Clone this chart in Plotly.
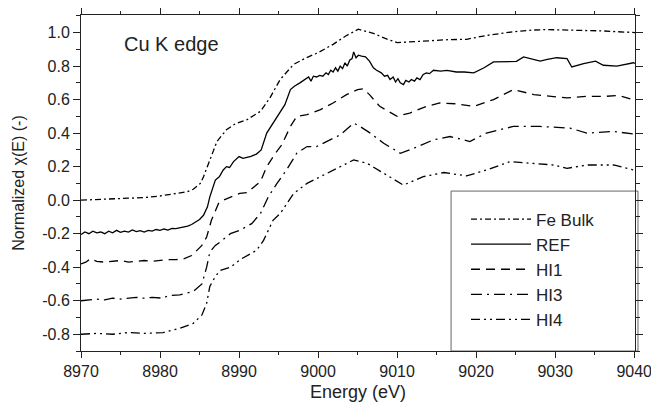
import plotly.graph_objects as go

# ---------------- data ----------------
fe_bulk_e = [8970, 8972, 8974, 8976, 8978, 8980, 8982, 8983.4, 8984.2, 8985.1, 8985.5, 8986.3,
             8987.2, 8988.4, 8989.5, 8991, 8992.7, 8993.9, 8995.2, 8996.9, 8998.5, 9000, 9001.9,
             9003.5, 9005.1, 9007, 9008.5, 9010, 9012, 9014.6, 9016.5, 9018.8, 9021.3, 9024.7,
             9027, 9029, 9031.5, 9033.6, 9036, 9038, 9040, 9041.2]
fe_bulk_v = [0.00, 0.005, 0.01, 0.012, 0.015, 0.025, 0.04, 0.05, 0.065, 0.10, 0.14, 0.24,
             0.35, 0.42, 0.455, 0.48, 0.53, 0.61, 0.72, 0.81, 0.85, 0.88, 0.93,
             0.98, 1.02, 0.995, 0.965, 0.94, 0.945, 0.955, 0.958, 0.96, 0.983, 1.005,
             1.015, 1.018, 1.016, 1.012, 1.01, 1.005, 1.00, 0.998]

ref_e = [8970, 8970.5, 8971, 8971.5, 8972, 8972.5, 8973, 8973.5, 8974, 8974.5, 8975, 8975.5,
         8976, 8976.5, 8977, 8977.5, 8978, 8978.5, 8979, 8979.5, 8980, 8980.5, 8981, 8981.5,
         8982, 8982.5, 8983, 8983.5, 8984, 8984.5, 8985, 8985.5, 8986, 8986.3, 8986.7, 8987,
         8987.5, 8988, 8988.4, 8988.8, 8989.3, 8990, 8990.5, 8991, 8991.5, 8992.2, 8992.8,
         8993.5, 8994.3, 8995.2, 8995.8, 8996.5, 8997, 8997.7, 8998.3, 8998.8, 8999.1, 8999.4,
         8999.8, 9000.2, 9000.6, 9001, 9001.3, 9001.6, 9001.9, 9002.2, 9002.5, 9002.8, 9003.1,
         9003.4, 9003.7, 9004, 9004.3, 9004.5, 9004.8, 9005.1, 9005.5, 9006, 9006.5, 9007,
         9007.4, 9008, 9008.4, 9008.8, 9009.1, 9009.5, 9009.8, 9010.1, 9010.4, 9010.8, 9011.1,
         9011.5, 9011.8, 9012.2, 9012.5, 9012.9, 9013.3, 9013.7, 9014.1, 9014.6, 9015.5,
         9016.3, 9017.5, 9018.5, 9019.7, 9021, 9022.2, 9024, 9025.1, 9026, 9027, 9028.1,
         9029, 9030.2, 9031.5, 9032.1, 9033.6, 9035.1, 9036.1, 9037.8, 9039.9, 9041.2]
ref_v = [-0.205, -0.19, -0.20, -0.185, -0.195, -0.19, -0.20, -0.185, -0.195, -0.18, -0.192, -0.185,
         -0.19, -0.178, -0.188, -0.182, -0.19, -0.18, -0.185, -0.175, -0.18, -0.172, -0.178, -0.168,
         -0.17, -0.165, -0.16, -0.155, -0.145, -0.13, -0.115, -0.09, -0.04, 0.02, 0.08, 0.12,
         0.14, 0.18, 0.20, 0.195, 0.23, 0.26, 0.25, 0.255, 0.262, 0.275, 0.30,
         0.40, 0.46, 0.52, 0.57, 0.66, 0.68, 0.70, 0.72, 0.735, 0.71, 0.74,
         0.735, 0.745, 0.74, 0.76, 0.75, 0.775, 0.765, 0.79, 0.77, 0.80, 0.785,
         0.82, 0.80, 0.835, 0.845, 0.885, 0.85, 0.865, 0.86, 0.855, 0.83, 0.79,
         0.775, 0.76, 0.74, 0.745, 0.72, 0.735, 0.705, 0.725, 0.70, 0.69, 0.715,
         0.705, 0.72, 0.71, 0.73, 0.72, 0.75, 0.76, 0.755, 0.775, 0.77,
         0.775, 0.765, 0.765, 0.76, 0.79, 0.825, 0.827, 0.828, 0.855, 0.845, 0.83,
         0.84, 0.85, 0.845, 0.795, 0.815, 0.83, 0.805, 0.80, 0.82, 0.795]

hi1_e = [8970, 8970.6, 8971.2, 8972, 8973, 8974, 8975, 8976, 8977, 8978, 8979, 8980, 8981, 8982,
         8983, 8984, 8984.6, 8985.3, 8985.9, 8986.5, 8987.4, 8988, 8989, 8990.1, 8991, 8992,
         8992.7, 8993.5, 8994.6, 8995.4, 8996.5, 8997.3, 8998.6, 9000.3, 9001.9, 9003.6, 9005,
         9005.7, 9006.5, 9007.8, 9010, 9011.6, 9013.7, 9015.4, 9017.5, 9019.7, 9022.2, 9024.7,
         9027.3, 9029.5, 9031.5, 9034, 9036.5, 9038, 9039.9, 9041]
hi1_v = [-0.38, -0.37, -0.35, -0.365, -0.37, -0.365, -0.36, -0.37, -0.365, -0.36, -0.365, -0.36,
         -0.355, -0.355, -0.35, -0.33, -0.30, -0.27, -0.22, -0.12, -0.02, 0.00, 0.02, 0.04, 0.045,
         0.08, 0.11, 0.20, 0.28, 0.33, 0.44, 0.50, 0.51, 0.54, 0.58, 0.63, 0.66,
         0.665, 0.63, 0.56, 0.50, 0.52, 0.56, 0.58, 0.575, 0.56, 0.60, 0.66,
         0.63, 0.62, 0.61, 0.62, 0.62, 0.625, 0.60, 0.595]

hi3_e = [8970, 8971, 8972, 8973, 8974, 8975, 8976, 8977, 8978, 8979, 8980.4, 8981, 8982.5,
         8984.2, 8985.3, 8985.9, 8986.3, 8987, 8987.6, 8988.9, 8990.1, 8991.6, 8992.7, 8993.7,
         8994.8, 8996, 8997.3, 8998.6, 8999.8, 9001.1, 9002.8, 9004.5, 9005.3, 9006.6, 9008.3,
         9010.4, 9012.1, 9014.6, 9016.7, 9019.2, 9021.3, 9024.7, 9028.1, 9031.9, 9034, 9037.4,
         9040.8]
hi3_v = [-0.60, -0.595, -0.59, -0.595, -0.585, -0.59, -0.585, -0.58, -0.585, -0.58, -0.585, -0.57,
         -0.565, -0.545, -0.50, -0.40, -0.31, -0.27, -0.25, -0.20, -0.18, -0.14, -0.08, 0.02,
         0.10, 0.18, 0.28, 0.32, 0.32, 0.35, 0.39, 0.46, 0.44, 0.40, 0.34,
         0.28, 0.31, 0.36, 0.38, 0.35, 0.40, 0.44, 0.44, 0.43, 0.40, 0.41,
         0.39]

hi4_e = [8970, 8972, 8974, 8976, 8978, 8980.4, 8982.5, 8984.2, 8985.3, 8985.9, 8986.3, 8987,
         8987.6, 8988.9, 8990.3, 8992.2, 8993.1, 8993.7, 8994.3, 8995.2, 8996.9, 8998.6, 9000.3,
         9002.8, 9004.5, 9006.2, 9008.3, 9010.8, 9013.3, 9015.9, 9018.8, 9021.3, 9024.3, 9027.3,
         9029.8, 9031.5, 9034, 9037.4, 9039.9, 9041]
hi4_v = [-0.80, -0.795, -0.80, -0.79, -0.795, -0.79, -0.765, -0.735, -0.685, -0.615, -0.515, -0.455,
         -0.42, -0.40, -0.35, -0.30, -0.24, -0.18, -0.12, -0.08, 0.04, 0.10, 0.14,
         0.20, 0.24, 0.22, 0.16, 0.09, 0.14, 0.165, 0.145, 0.18, 0.23, 0.22,
         0.21, 0.19, 0.21, 0.21, 0.18, 0.175]

x_tick_vals = [8970, 8980, 8990, 9000, 9010, 9020, 9030, 9040]
x_tick_text = ["8970", "8980", "8990", "9000", "9010", "9020", "9030", "9040"]
y_tick_vals = [-0.8, -0.6, -0.4, -0.2, 0.0, 0.2, 0.4, 0.6, 0.8, 1.0]
y_tick_text = ["-0.8", "-0.6", "-0.4", "-0.2", "0.0", "0.2", "0.4", "0.6", "0.8", "1.0"]

series = [
    ("Fe Bulk", fe_bulk_e, fe_bulk_v, "6px,3px,2px,3px"),
    ("REF", ref_e, ref_v, "solid"),
    ("HI1", hi1_e, hi1_v, "9px,6px"),
    ("HI3", hi3_e, hi3_v, "11px,5px,2px,5px"),
    ("HI4", hi4_e, hi4_v, "9px,4px,2px,4px,2px,4px"),
]

FONT = "Arial, 'Liberation Sans', sans-serif"

fig = go.Figure()
for name, xs, ys, dash in series:
    fig.add_trace(go.Scatter(x=xs, y=ys, mode="lines", name=name,
                             line=dict(color="black", width=1.3, dash=dash)))

axis_common = dict(showline=True, linecolor="#222", linewidth=1, mirror="ticks",
                   ticks="outside", tickcolor="#222", showgrid=False, zeroline=False,
                   automargin=False, ticklabeloverflow="allow",
                   tickfont=dict(family=FONT, size=16, color="#222"))

fig.update_xaxes(range=[8970, 9040.1], tickvals=x_tick_vals, ticktext=x_tick_text,
                 ticklen=6, minor=dict(dtick=5, tick0=8970, ticklen=3, ticks="outside", tickcolor="#222"),
                 title=dict(text="Energy (eV)", font=dict(family=FONT, size=18, color="#222"), standoff=6),
                 **axis_common)
fig.update_yaxes(range=[-0.9, 1.105], tickvals=y_tick_vals, ticktext=y_tick_text,
                 ticklen=7, minor=dict(dtick=0.1, tick0=0, ticklen=4, ticks="outside", tickcolor="#222"),
                 title=dict(text="Normalized χ(E) (-)", font=dict(family=FONT, size=16, color="#222"), standoff=13),
                 **axis_common)

fig.add_annotation(text="Cu K edge", xref="paper", yref="paper", x=0.074, y=0.914,
                   xanchor="left", yanchor="middle", showarrow=False,
                   font=dict(family=FONT, size=20, color="#222"))

# legend frame
fig.add_shape(type="rect", xref="paper", yref="paper", x0=0.668, x1=1.0054, y0=0, y1=0.476,
              line=dict(color="#666", width=1), fillcolor="white", layer="below")

fig.update_layout(
    width=651, height=405,
    margin=dict(l=81, r=16, t=15, b=54),
    paper_bgcolor="white", plot_bgcolor="white",
    showlegend=True,
    legend=dict(x=0.695, y=0.445, xanchor="left", yanchor="top", bgcolor="rgba(0,0,0,0)",
                borderwidth=0, font=dict(family=FONT, size=17, color="#222"),
                itemwidth=60, tracegroupgap=0),
)

fig.write_html("out.html", config={"displayModeBar": False},
               post_script="document.body.style.margin='0px';")
